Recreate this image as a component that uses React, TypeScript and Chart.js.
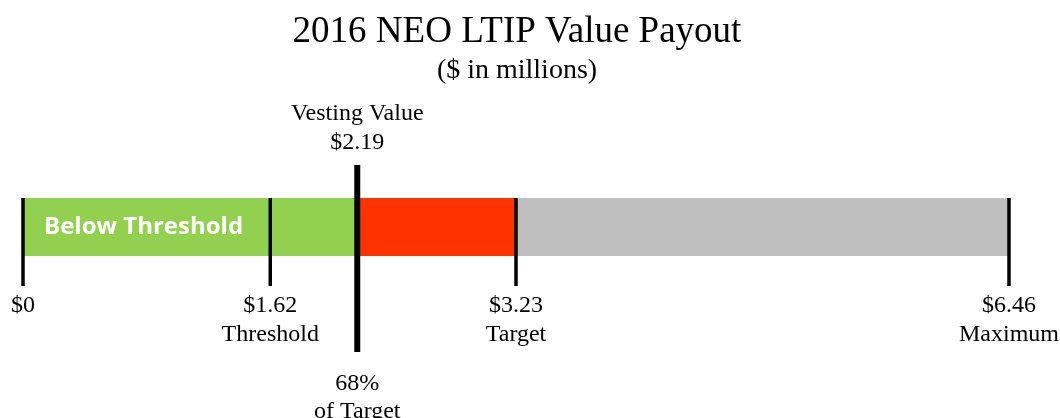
import React, { useEffect, useRef } from "react";
import { Chart, registerables } from "chart.js";

Chart.register(...registerables);

const titleText = "2016 NEO LTIP Value Payout";
const subtitleText = "($ in millions)";

const categories = ["2016 NEO LTIP"];
const segmentNames = ["Below Threshold", "Threshold to Target", "Target to Maximum"];
const segmentEnds = [2.19, 3.23, 6.46];
const segmentColors = ["#92D050", "#FF3300", "#BFBFBF"];

const markerValues = [0, 1.62, 3.23, 6.46];
const markerAmounts = ["$0", "$1.62", "$3.23", "$6.46"];
const markerNames = ["", "Threshold", "Target", "Maximum"];

const vestingValue = 2.19;
const vestingAbove = ["Vesting Value", "$2.19"];
const vestingBelow = ["68%", "of Target"];

const SERIF = '"Liberation Serif", "Times New Roman", serif';

const overlayPlugin = {
  id: "overlay",
  afterDatasetsDraw(chart: any) {
    const ctx = chart.ctx;
    const x = chart.scales.x;
    const area = chart.chartArea;
    const top = area.top;
    const bottom = area.bottom;
    const W = chart.width;

    ctx.save();
    // "Below Threshold" inside the green segment
    ctx.fillStyle = "#ffffff";
    ctx.font = 'bold 24px "Open Sans", sans-serif';
    ctx.textAlign = "left";
    ctx.textBaseline = "middle";
    ctx.fillText(segmentNames[0], x.getPixelForValue(0) + 21, (top + bottom) / 2);

    // marker tick lines
    ctx.strokeStyle = "#000000";
    ctx.lineWidth = 3.5;
    markerValues.forEach((v) => {
      const px = x.getPixelForValue(v);
      ctx.beginPath();
      ctx.moveTo(px, top);
      ctx.lineTo(px, top + 88);
      ctx.stroke();
    });

    // vesting line
    const vx = x.getPixelForValue(vestingValue);
    ctx.lineWidth = 6;
    ctx.beginPath();
    ctx.moveTo(vx, top - 33);
    ctx.lineTo(vx, top + 154);
    ctx.stroke();

    // marker labels
    ctx.fillStyle = "#000000";
    ctx.font = `24px ${SERIF}`;
    ctx.textAlign = "center";
    ctx.textBaseline = "middle";
    markerValues.forEach((v, i) => {
      const px = x.getPixelForValue(v);
      ctx.fillText(markerAmounts[i], px, top + 108);
      if (markerNames[i]) ctx.fillText(markerNames[i], px, top + 137);
    });

    // vesting labels
    ctx.fillText(vestingAbove[0], vx, top - 84);
    ctx.fillText(vestingAbove[1], vx, top - 55);
    ctx.fillText(vestingBelow[0], vx, top + 186);
    ctx.fillText(vestingBelow[1], vx, top + 214);

    // titles
    ctx.font = `37px ${SERIF}`;
    ctx.fillText(titleText, W / 2 - 13, 32);
    ctx.font = `28px ${SERIF}`;
    ctx.fillText(subtitleText, W / 2 - 13, 71);
    ctx.restore();
  },
};

export default function App() {
  const ref = useRef<HTMLCanvasElement | null>(null);

  useEffect(() => {
    if (!ref.current) return;
    const starts = [0, ...segmentEnds.slice(0, -1)];
    const datasets = segmentEnds.map((end, i) => ({
      label: segmentNames[i],
      data: [end - starts[i]],
      backgroundColor: segmentColors[i],
      borderWidth: 0,
      barPercentage: 1,
      categoryPercentage: 1,
    }));
    const chart = new Chart(ref.current, {
      type: "bar",
      data: { labels: categories, datasets },
      options: {
        indexAxis: "y",
        responsive: false,
        animation: false,
        devicePixelRatio: 1,
        layout: { padding: { left: 23, right: 51, top: 198, bottom: 162 } },
        scales: {
          x: { stacked: true, min: 0, max: markerValues[markerValues.length - 1], display: false },
          y: { stacked: true, display: false },
        },
        plugins: {
          legend: { display: false },
          tooltip: { enabled: false },
          title: { display: false },
        },
      },
      plugins: [overlayPlugin],
    } as any);
    return () => chart.destroy();
  }, []);

  return (
    <div style={{ position: "absolute", left: 0, top: 0, width: 1060, height: 418, background: "#fff" }}>
      <canvas ref={ref} width={1060} height={418} style={{ display: "block" }} />
    </div>
  );
}
